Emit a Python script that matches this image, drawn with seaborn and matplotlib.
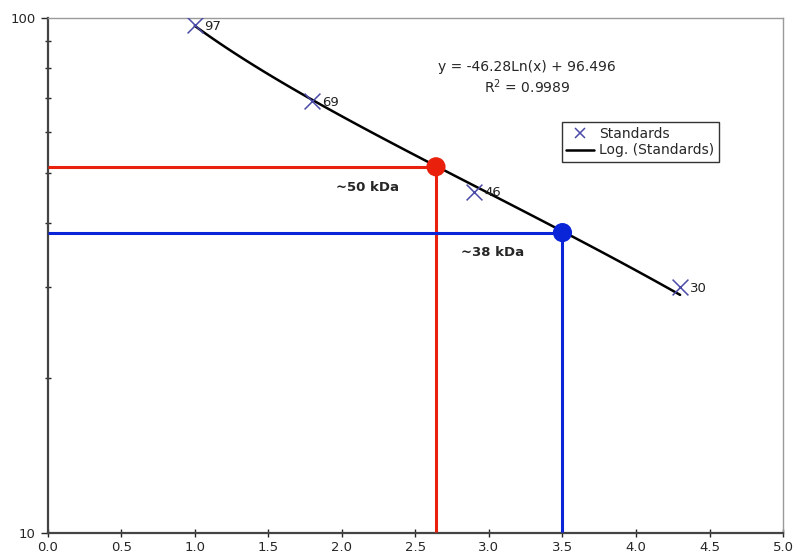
import numpy as np
import pandas as pd
import matplotlib
matplotlib.use("Agg")
import matplotlib.pyplot as plt
import seaborn as sns
from matplotlib.lines import Line2D
from matplotlib.ticker import LogLocator, NullFormatter, FixedLocator, FixedFormatter

# Standards (relative migration vs. molecular weight, kDa)
std_x = [1.0, 1.8, 2.9, 4.3]
std_kda = [97, 69, 46, 30]
std_labels = ["97", "69", "46", "30"]

# Unknown bands
unk_x = [2.64, 3.5]
unk_kda = [51.4, 38.3]
unk_labels = ["~50 kDa", "~38 kDa"]
unk_colors = ["#e8200c", "#0a24d8"]

eq_text = "y = -46.28Ln(x) + 96.496"
r2_text = "R$^2$ = 0.9989"

sns.set_style("white")
plt.rcParams["font.family"] = ["DejaVu Sans"]

fig = plt.figure(figsize=(7.95, 5.59), dpi=100)
ax = fig.add_axes([0.060, 0.0465, 0.925, 0.9215])

df = pd.DataFrame({"x": std_x, "kda": std_kda})

# Log trendline of the standards (y = a*ln(x) + b)
sns.regplot(data=df, x="x", y="kda", logx=True, ci=None, scatter=False,
            truncate=True, color="black", line_kws={"lw": 1.8}, ax=ax)

# guide lines for unknowns
for ux, uy, c in zip(unk_x, unk_kda, unk_colors):
    ax.hlines(uy, 0, ux, color=c, lw=2.2, zorder=3)
    ax.vlines(ux, 10.05, uy, color=c, lw=2.2, zorder=3)

sns.scatterplot(x=unk_x, y=unk_kda, hue=unk_labels, palette=unk_colors,
                s=190, edgecolor="none", legend=False, zorder=5, ax=ax)

sns.scatterplot(data=df, x="x", y="kda", marker="x", s=130, color="#4a4aa8",
                linewidth=1.1, zorder=6, ax=ax)

for xx, yy, lab in zip(std_x, std_kda, std_labels):
    ax.annotate(lab, (xx, yy), xytext=(7, -1), textcoords="offset points",
                ha="left", va="center", fontsize=9.5, color="#222222")

ax.annotate(unk_labels[0], (unk_x[0], unk_kda[0]), xytext=(-49, -15),
            textcoords="offset points", ha="center", va="center",
            fontsize=9.5, fontweight="bold")
ax.annotate(unk_labels[1], (unk_x[1], unk_kda[1]), xytext=(-50, -14),
            textcoords="offset points", ha="center", va="center",
            fontsize=9.5, fontweight="bold")

ax.text(0.652, 0.905, eq_text, transform=ax.transAxes, ha="center",
        va="center", fontsize=10)
ax.text(0.652, 0.867, r2_text, transform=ax.transAxes, ha="center",
        va="center", fontsize=10)

ax.set_yscale("log")
ax.set_xlim(0, 5)
ax.set_ylim(10, 100)
ax.set_xlabel("")
ax.set_ylabel("")

ax.xaxis.set_major_locator(FixedLocator(np.arange(0, 5.01, 0.5)))
ax.set_xticklabels([f"{v:.1f}" for v in np.arange(0, 5.01, 0.5)])
ax.yaxis.set_major_locator(FixedLocator([10, 100]))
ax.yaxis.set_major_formatter(FixedFormatter(["10", "100"]))
ax.yaxis.set_minor_locator(LogLocator(base=10, subs=np.arange(2, 10)))
ax.yaxis.set_minor_formatter(NullFormatter())

ax.tick_params(axis="x", which="major", direction="inout", length=6,
               width=1, labelsize=9.5, pad=3, bottom=True)
ax.tick_params(axis="y", which="major", direction="out", length=5,
               width=1, labelsize=9.5, left=True)
ax.tick_params(axis="y", which="minor", direction="inout", length=5,
               width=1, left=True)

for side in ["left", "bottom"]:
    ax.spines[side].set_color("#444444")
    ax.spines[side].set_linewidth(1.6)
for side in ["top", "right"]:
    ax.spines[side].set_color("#9a9a9a")
    ax.spines[side].set_linewidth(1.0)

handles = [
    Line2D([], [], marker="x", ls="none", color="#4a4aa8", markersize=7,
           markeredgewidth=1.1, label="Standards"),
    Line2D([], [], color="black", lw=1.8, label="Log. (Standards)"),
]
leg = ax.legend(handles=handles, loc="upper left",
                bbox_to_anchor=(0.699, 0.797), fontsize=10, frameon=True,
                fancybox=False, borderpad=0.3, handlelength=2.0,
                handletextpad=0.4, labelspacing=0.2, borderaxespad=0)
leg.get_frame().set_edgecolor("black")
leg.get_frame().set_linewidth(1.0)

fig.savefig("out.png", dpi=100)
